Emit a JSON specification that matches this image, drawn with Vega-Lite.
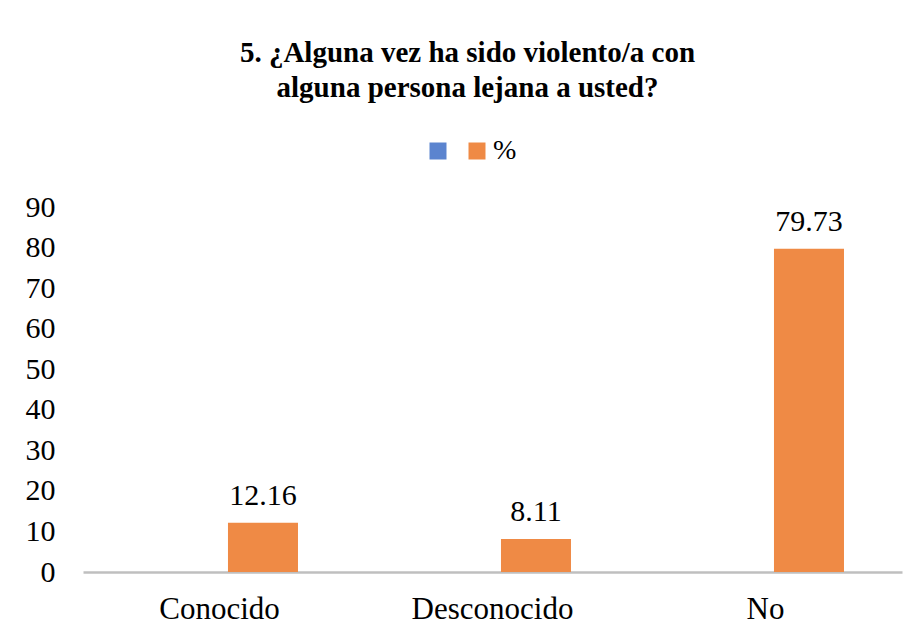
{
  "$schema": "https://vega.github.io/schema/vega-lite/v6.json",
  "autosize": "none",
  "width": 819,
  "height": 365,
  "padding": {"left": 83, "top": 207, "right": 13, "bottom": 63},
  "background": "white",
  "title": {
    "text": ["5. ¿Alguna vez ha sido violento/a con", "alguna persona lejana a usted?"],
    "font": "'Liberation Serif', 'DejaVu Serif', serif",
    "fontSize": 29,
    "fontWeight": "bold",
    "color": "#000000",
    "anchor": "middle",
    "frame": "group",
    "lineHeight": 35,
    "offset": 34,
    "dx": -25
  },
  "data": {
    "values": [
      {"categoria": "Conocido", "serie": "%", "valor": 12.16},
      {"categoria": "Desconocido", "serie": "%", "valor": 8.11},
      {"categoria": "No", "serie": "%", "valor": 79.73}
    ]
  },
  "encoding": {
    "x": {
      "field": "categoria",
      "type": "nominal",
      "sort": null,
      "scale": {"paddingInner": 0, "paddingOuter": 0},
      "axis": {
        "title": null,
        "labelAngle": 0,
        "ticks": false,
        "domainColor": "#BFBFBF",
        "domainWidth": 2.5,
        "labelFont": "Liberation Serif",
        "labelFontSize": 31,
        "labelColor": "#000000",
        "labelPadding": 22
      }
    },
    "xOffset": {
      "field": "serie",
      "type": "nominal",
      "scale": {"domain": ["S1", "%"], "paddingInner": 0.195, "paddingOuter": 0.667}
    },
    "y": {
      "field": "valor",
      "type": "quantitative",
      "scale": {"domain": [0, 90]},
      "axis": {
        "values": [0, 10, 20, 30, 40, 50, 60, 70, 80, 90],
        "title": null,
        "grid": false,
        "ticks": false,
        "domain": false,
        "labelFont": "Liberation Serif",
        "labelFontSize": 30,
        "labelColor": "#000000",
        "labelPadding": 28
      }
    }
  },
  "layer": [
    {
      "mark": {"type": "bar"},
      "encoding": {
        "color": {
          "field": "serie",
          "type": "nominal",
          "scale": {"domain": ["S1", "%"], "range": ["#5B84CF", "#EF8A45"]},
          "legend": {
            "orient": "none",
            "legendX": 341,
            "legendY": -70,
            "direction": "horizontal",
            "title": null,
            "symbolType": "square",
            "symbolSize": 289,
            "symbolStrokeWidth": 0,
            "labelExpr": "datum.label == 'S1' ? '' : datum.label",
            "labelFont": "Liberation Serif",
            "labelFontSize": 28,
            "labelColor": "#000000",
            "labelOffset": 2,
            "columnPadding": 9
          }
        }
      }
    },
    {
      "mark": {
        "type": "text",
        "dy": -18,
        "baseline": "alphabetic",
        "font": "Liberation Serif",
        "fontSize": 30,
        "color": "#000000"
      },
      "encoding": {
        "text": {"field": "valor", "type": "quantitative", "format": ".2f"}
      }
    }
  ],
  "config": {
    "view": {"stroke": null}
  }
}
